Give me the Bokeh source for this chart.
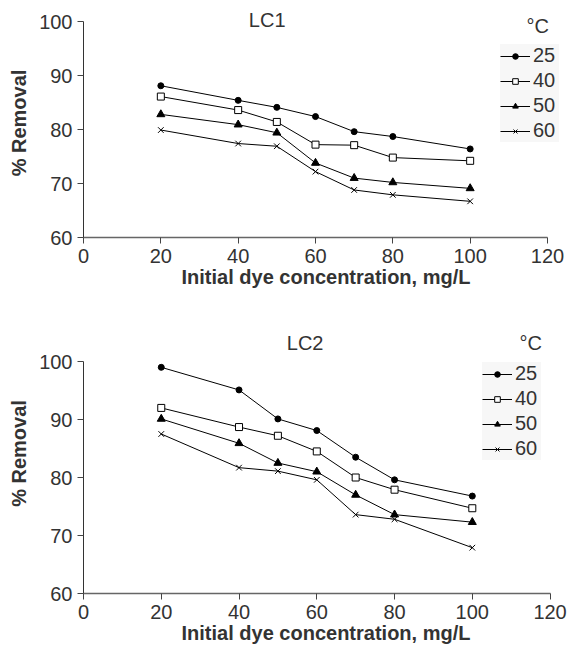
from bokeh.plotting import figure
from bokeh.models import FixedTicker, Label, Range1d
from bokeh.layouts import column
from bokeh.embed import file_html
from bokeh.resources import INLINE

conc = [20, 40, 50, 60, 70, 80, 100]
temps = ["25", "40", "50", "60"]

lc1_25 = [88.1, 85.4, 84.1, 82.4, 79.6, 78.7, 76.4]
lc1_40 = [86.1, 83.6, 81.4, 77.2, 77.1, 74.8, 74.2]
lc1_50 = [82.8, 80.9, 79.4, 73.8, 71.0, 70.2, 69.1]
lc1_60 = [79.9, 77.4, 76.9, 72.2, 68.8, 67.9, 66.7]

lc2_25 = [99.0, 95.1, 90.1, 88.1, 83.5, 79.6, 76.8]
lc2_40 = [92.0, 88.7, 87.2, 84.5, 80.0, 77.9, 74.7]
lc2_50 = [90.1, 85.9, 82.5, 81.0, 77.0, 73.6, 72.3]
lc2_60 = [87.5, 81.7, 81.1, 79.6, 73.6, 72.8, 67.9]

x_ticks = [0, 20, 40, 60, 80, 100, 120]
y_ticks = [60, 70, 80, 90, 100]

FONT = "Liberation Sans"
TXT = "#333333"

markers = [
    dict(marker="circle", size=6, fill_color="black", line_color="black"),
    dict(marker="square", size=7, fill_color="white", line_color="black"),
    dict(marker="triangle", size=8, fill_color="black", line_color="black"),
    dict(marker="x", size=8, fill_color="black", line_color="black"),
]


def make_chart(series, title, title_xy, deg_xy, height, top, bottom_border,
               x_end, y_end, legend_loc):
    p = figure(width=568, height=height, output_backend="svg", toolbar_location=None,
               x_range=Range1d(0, x_end), y_range=Range1d(60, y_end),
               min_border_left=83, min_border_right=0, min_border_top=top,
               min_border_bottom=bottom_border)
    p.outline_line_color = None
    p.xgrid.grid_line_color = None
    p.ygrid.grid_line_color = None
    p.background_fill_color = None
    p.border_fill_color = None
    for ys, t, m in zip(series, temps, markers):
        p.line(conc, ys, line_color="black", line_width=1, legend_label=t)
        p.scatter(conc, ys, legend_label=t, line_width=1, **m)
    p.xaxis.ticker = FixedTicker(ticks=x_ticks)
    p.yaxis.ticker = FixedTicker(ticks=y_ticks)
    p.xaxis.bounds = (0, 120)
    p.yaxis.bounds = (60, 100)
    for ax in (p.xaxis[0], p.yaxis[0]):
        ax.major_tick_out = 6
        ax.major_tick_in = 0
        ax.minor_tick_out = 0
        ax.minor_tick_in = 0
        ax.major_label_text_font = FONT
        ax.major_label_text_font_size = "20px"
        ax.major_label_text_color = TXT
        ax.major_label_standoff = 5
        ax.axis_label_text_font = FONT
        ax.axis_label_text_font_size = "20px"
        ax.axis_label_text_font_style = "bold"
        ax.axis_label_text_color = TXT
        ax.major_tick_line_color = "#444444"
    p.xaxis.axis_line_color = "#666666"
    p.xaxis.axis_line_width = 1.5
    p.yaxis.axis_line_color = "#333333"
    p.yaxis.axis_label = "% Removal"
    p.yaxis.axis_label_standoff = 6
    p.xaxis.axis_label = "Initial dye concentration, mg/L"
    p.xaxis.axis_label_standoff = 0
    p.add_layout(Label(x=title_xy[0], y=title_xy[1], text=title, text_font=FONT,
                       text_font_size="20px", text_color=TXT, text_align="center",
                       text_baseline="middle"))
    p.add_layout(Label(x=deg_xy[0], y=deg_xy[1], text="°C", text_font=FONT,
                       text_font_size="20px", text_color=TXT, text_align="center",
                       text_baseline="middle"))
    lg = p.legend[0]
    lg.location = legend_loc
    lg.label_text_font = FONT
    lg.label_text_font_size = "20px"
    lg.label_text_color = TXT
    lg.glyph_width = 30
    lg.glyph_height = 14
    lg.label_height = 20
    lg.label_width = 26
    lg.label_standoff = 3
    lg.spacing = 2
    lg.padding = 3
    lg.margin = 0
    lg.background_fill_color = "#f7f7f7"
    lg.background_fill_alpha = 1.0
    lg.border_line_color = None
    return p


p1 = make_chart([lc1_25, lc1_40, lc1_50, lc1_60], "LC1", (47.5, 100.3), (117.5, 99.2),
                height=305, top=8, bottom_border=68, x_end=125.43, y_end=102.41,
                legend_loc=(417, 95))
p2 = make_chart([lc2_25, lc2_40, lc2_50, lc2_60], "LC2", (57.0, 103.2), (115.0, 103.2),
                height=346, top=8, bottom_border=58, x_end=124.74, y_end=108.28,
                legend_loc=(399, 133))

layout = column(p1, p2, spacing=0)
open("out.html", "w").write(file_html(layout, INLINE))
